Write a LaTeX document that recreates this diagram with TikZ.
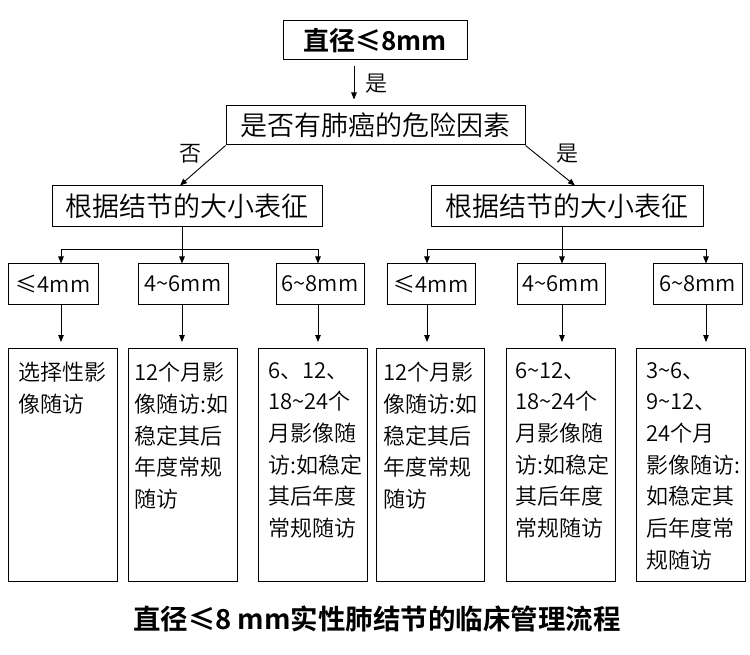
\documentclass[tikz,border=0pt]{standalone}
\usepackage{fontspec}
\setmainfont{Noto Sans CJK SC DemiLight}[BoldFont={Noto Sans CJK SC Bold}]
\usetikzlibrary{arrows.meta}
\newcommand\mytilde{\textasciitilde}
\begin{document}
\begin{tikzpicture}[x=1pt,y=-1pt,
  box/.style={draw, line width=1pt, inner sep=0pt},
  arr/.style={-{Triangle[length=7pt,width=5.5pt]}, line width=0.9pt},
  ln/.style={line width=0.9pt},
  bigbox/.style={draw, line width=1pt, anchor=north west, inner sep=0pt, minimum height=233pt},
  txt/.style={anchor=north west, inner sep=0pt, align=left, font=\fontsize{22}{31.7}\selectfont},
  lbl/.style={font=\fontsize{22}{24}\selectfont, inner sep=0pt},
  mid/.style={font=\fontsize{27}{29}\selectfont},
  small/.style={box, minimum height=40pt, font=\fontsize{22}{24}\selectfont}]
\useasboundingbox (0,0) rectangle (750,655);
\fill[white] (0,0) rectangle (750,655);

% column coordinates
\coordinate (c0) at (354,0);
\coordinate (c1) at (61,0);
\coordinate (c2) at (182,0);
\coordinate (c3) at (318,0);
\coordinate (c4) at (427,0);
\coordinate (c5) at (562,0);
\coordinate (c6) at (706,0);
\coordinate (dL) at (180,0);
\coordinate (dR) at (575,0);
\coordinate (hl) at (0,249);

\node[box, minimum width=184pt, minimum height=39pt, font=\bfseries\fontsize{26}{28}\selectfont] (top) at (375,40.5) {直径≤8mm};
\node[box, mid, minimum width=299pt, minimum height=39pt] (risk) at (375.5,125.5) {是否有肺癌的危险因素};
\node[box, mid, minimum width=270pt, minimum height=41pt] (L) at (187,206.5) {根据结节的大小表征};
\node[box, mid, minimum width=272pt, minimum height=41pt] (R) at (567,206.5) {根据结节的大小表征};

\draw[arr, shorten <=6pt, shorten >=6pt] (top.south -| c0) -- (risk.north -| c0);
\node[lbl] (yes0) at (376,84) {是};
\draw[arr] (risk.south west) -- (L.north -| dL);
\draw[arr] (risk.south east) -- (R.north -| dR);
\node[lbl] (no1) at (190,154) {否};
\node[lbl] (yes1) at (567,154) {是};

% level 4
\node[small, minimum width=90pt] (a1) at (53,284) {≤4mm};
\node[small, minimum width=90pt] (a2) at (183,284) {4\mytilde6mm};
\node[small, minimum width=88pt] (a3) at (320,284) {6\mytilde8mm};
\node[small, minimum width=88pt] (a4) at (431,284) {≤4mm};
\node[small, minimum width=88pt] (a5) at (561,284) {4\mytilde6mm};
\node[small, minimum width=89pt] (a6) at (697.5,284) {6\mytilde8mm};

\draw[ln] (L.south -| c2) -- (hl -| c2);
\draw[ln] (hl -| c1) -- (hl -| c3);
\draw[arr] (hl -| c1) -- (a1.north -| c1);
\draw[arr] (hl -| c2) -- (a2.north -| c2);
\draw[arr] (hl -| c3) -- (a3.north -| c3);
\draw[ln] (R.south -| c5) -- (hl -| c5);
\draw[ln] (hl -| c4) -- (hl -| c6);
\draw[arr] (hl -| c4) -- (a4.north -| c4);
\draw[arr] (hl -| c5) -- (a5.north -| c5);
\draw[arr] (hl -| c6) -- (a6.north -| c6);

% big boxes
\node[bigbox, minimum width=109pt] (b1) at (8,348) {};
\node[bigbox, minimum width=109pt] (b2) at (128,348) {};
\node[bigbox, minimum width=109pt] (b3) at (258,348) {};
\node[bigbox, minimum width=108pt] (b4) at (376,348) {};
\node[bigbox, minimum width=109pt] (b5) at (506,348) {};
\node[bigbox, minimum width=109pt] (b6) at (636,348) {};

\draw[arr, shorten >=6pt] (a1.south -| c1) -- (b1.north -| c1);
\draw[arr, shorten >=6pt] (a2.south -| c2) -- (b2.north -| c2);
\draw[arr, shorten >=6pt] (a3.south -| c3) -- (b3.north -| c3);
\draw[arr, shorten >=6pt] (a4.south -| c4) -- (b4.north -| c4);
\draw[arr, shorten >=6pt] (a5.south -| c5) -- (b5.north -| c5);
\draw[arr, shorten >=6pt] (a6.south -| c6) -- (b6.north -| c6);

\node[txt] (t1) at (18,362) {选择性影\\像随访};
\node[txt] (t2) at (134,362) {12个月影\\像随访:如\\稳定其后\\年度常规\\随访};
\node[txt] (t3) at (268,362) {6、12、\\18\mytilde24个\\月影像随\\访:如稳定\\其后年度\\常规随访};
\node[txt] (t4) at (383,362) {12个月影\\像随访:如\\稳定其后\\年度常规\\随访};
\node[txt] (t5) at (515,362) {6\mytilde12、\\18\mytilde24个\\月影像随\\访:如稳定\\其后年度\\常规随访};
\node[txt] (t6) at (646,362) {3\mytilde6、\\9\mytilde12、\\24个月\\影像随访:\\如稳定其\\后年度常\\规随访};

\node[font=\bfseries\fontsize{27.5}{29}\selectfont, inner sep=0pt] (title) at (377,619) {直径≤8 mm实性肺结节的临床管理流程};
\end{tikzpicture}
\end{document}
